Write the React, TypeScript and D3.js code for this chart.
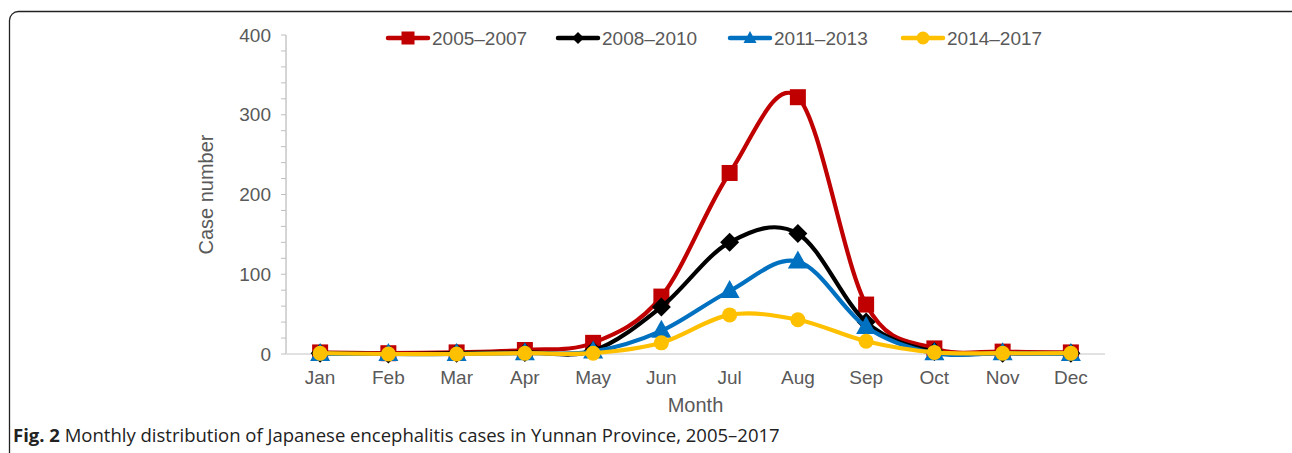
import React from "react";
import * as d3 from "d3";

const months = ["Jan", "Feb", "Mar", "Apr", "May", "Jun", "Jul", "Aug", "Sep", "Oct", "Nov", "Dec"];
const s2005 = [2, 1, 2, 5, 14, 72, 227, 322, 62, 7, 3, 2];
const s2008 = [1, 0, 1, 2, 4, 59, 140, 151, 40, 3, 1, 1];
const s2011 = [0, 0, 0, 1, 3, 29, 79, 116, 34, 1, 1, 0];
const s2014 = [1, 0, 0, 1, 1, 14, 49, 43, 16, 2, 1, 1];
const seriesNames = ["2005–2007", "2008–2010", "2011–2013", "2014–2017"];
const yTicks = [0, 100, 200, 300, 400];

const colors = ["#c00000", "#000000", "#0070c0", "#ffc000"];
const shapes = ["square", "diamond", "triangle", "circle"];

function Marker({ shape, x, y, color }: { shape: string; x: number; y: number; color: string }) {
  if (shape === "square") return <rect x={x - 8} y={y - 8} width={16} height={16} fill={color} />;
  if (shape === "diamond") return <path d={`M${x},${y - 9.5}L${x + 9.5},${y}L${x},${y + 9.5}L${x - 9.5},${y}Z`} fill={color} />;
  if (shape === "triangle") return <path d={`M${x},${y - 11}L${x + 10},${y + 7}L${x - 10},${y + 7}Z`} fill={color} />;
  return <circle cx={x} cy={y} r={7.5} fill={color} />;
}

function LegendMarker({ shape, x, y, color }: { shape: string; x: number; y: number; color: string }) {
  if (shape === "square") return <rect x={x - 6.5} y={y - 6.5} width={13} height={13} fill={color} />;
  if (shape === "diamond") return <path d={`M${x},${y - 6}L${x + 6},${y}L${x},${y + 6}L${x - 6},${y}Z`} fill={color} />;
  if (shape === "triangle") return <path d={`M${x},${y - 7}L${x + 6.5},${y + 5}L${x - 6.5},${y + 5}Z`} fill={color} />;
  return <circle cx={x} cy={y} r={6.5} fill={color} />;
}

export default function App() {
  const W = 1292, H = 453;
  const left = 286, right = 1105, top = 35, bottom = 354;
  const x = d3.scalePoint<string>().domain(months).range([left, right]).padding(0.5);
  const y = d3.scaleLinear().domain([0, 400]).range([bottom, top]);
  const all = [s2005, s2008, s2011, s2014];
  const line = d3
    .line<number>()
    .x((_, i) => x(months[i]) as number)
    .y((d) => y(d))
    .curve(d3.curveCatmullRom.alpha(0));
  const minor = d3.range(0, 401, 20);
  const font = "'Liberation Sans', Arial, sans-serif";
  const legendX = [388, 558, 730, 903];

  return (
    <svg width={W} height={H} style={{ position: "absolute", left: 0, top: 0, background: "#fff" }}>
      <rect x={9.5} y={11.5} width={1300} height={470} rx={9} fill="none" stroke="#222" strokeWidth={1.3} />
      {/* y axis */}
      <line x1={left} x2={left} y1={top} y2={bottom} stroke="#bfbfbf" strokeWidth={1.3} />
      {minor.map((t) => (
        <line key={t} x1={left - 5} x2={left} y1={y(t)} y2={y(t)} stroke="#bfbfbf" strokeWidth={1} />
      ))}
      {yTicks.map((t) => (
        <text key={t} x={left - 15} y={y(t)} dy="0.35em" textAnchor="end" fontFamily={font} fontSize={19} fill="#595959">
          {t}
        </text>
      ))}
      <text
        transform={`translate(213,${(top + bottom) / 2 + 0}) rotate(-90)`}
        textAnchor="middle"
        fontFamily={font}
        fontSize={20}
        fill="#595959"
      >
        Case number
      </text>
      {/* x axis */}
      <line x1={left} x2={right} y1={bottom} y2={bottom} stroke="#d9d9d9" strokeWidth={1.5} />
      {months.map((m) => (
        <text key={m} x={x(m)} y={384} textAnchor="middle" fontFamily={font} fontSize={19} fill="#595959">
          {m}
        </text>
      ))}
      <text x={(left + right) / 2} y={412} textAnchor="middle" fontFamily={font} fontSize={20} fill="#595959">
        Month
      </text>
      {/* series */}
      {all.map((s, k) => (
        <g key={k}>
          <path d={line(s) || ""} fill="none" stroke={colors[k]} strokeWidth={4.2} strokeLinejoin="round" />
          {s.map((v, i) => (
            <Marker key={i} shape={shapes[k]} x={x(months[i]) as number} y={y(v)} color={colors[k]} />
          ))}
        </g>
      ))}
      {/* legend */}
      {seriesNames.map((n, k) => (
        <g key={n}>
          <line x1={legendX[k]} x2={legendX[k] + 40} y1={38} y2={38} stroke={colors[k]} strokeWidth={4.5} strokeLinecap="round" />
          <LegendMarker shape={shapes[k]} x={legendX[k] + 20} y={38} color={colors[k]} />
          <text x={legendX[k] + 44} y={38} dy="0.35em" fontFamily={font} fontSize={19} fill="#595959">
            {n}
          </text>
        </g>
      ))}
      {/* caption */}
      <text x={13} y={442} fontFamily="'Open Sans', 'Noto Sans', sans-serif" fontSize={18.5} fill="#222">
        <tspan fontWeight="bold">Fig. 2</tspan>
        <tspan> Monthly distribution of Japanese encephalitis cases in Yunnan Province, 2005–2017</tspan>
      </text>
    </svg>
  );
}
